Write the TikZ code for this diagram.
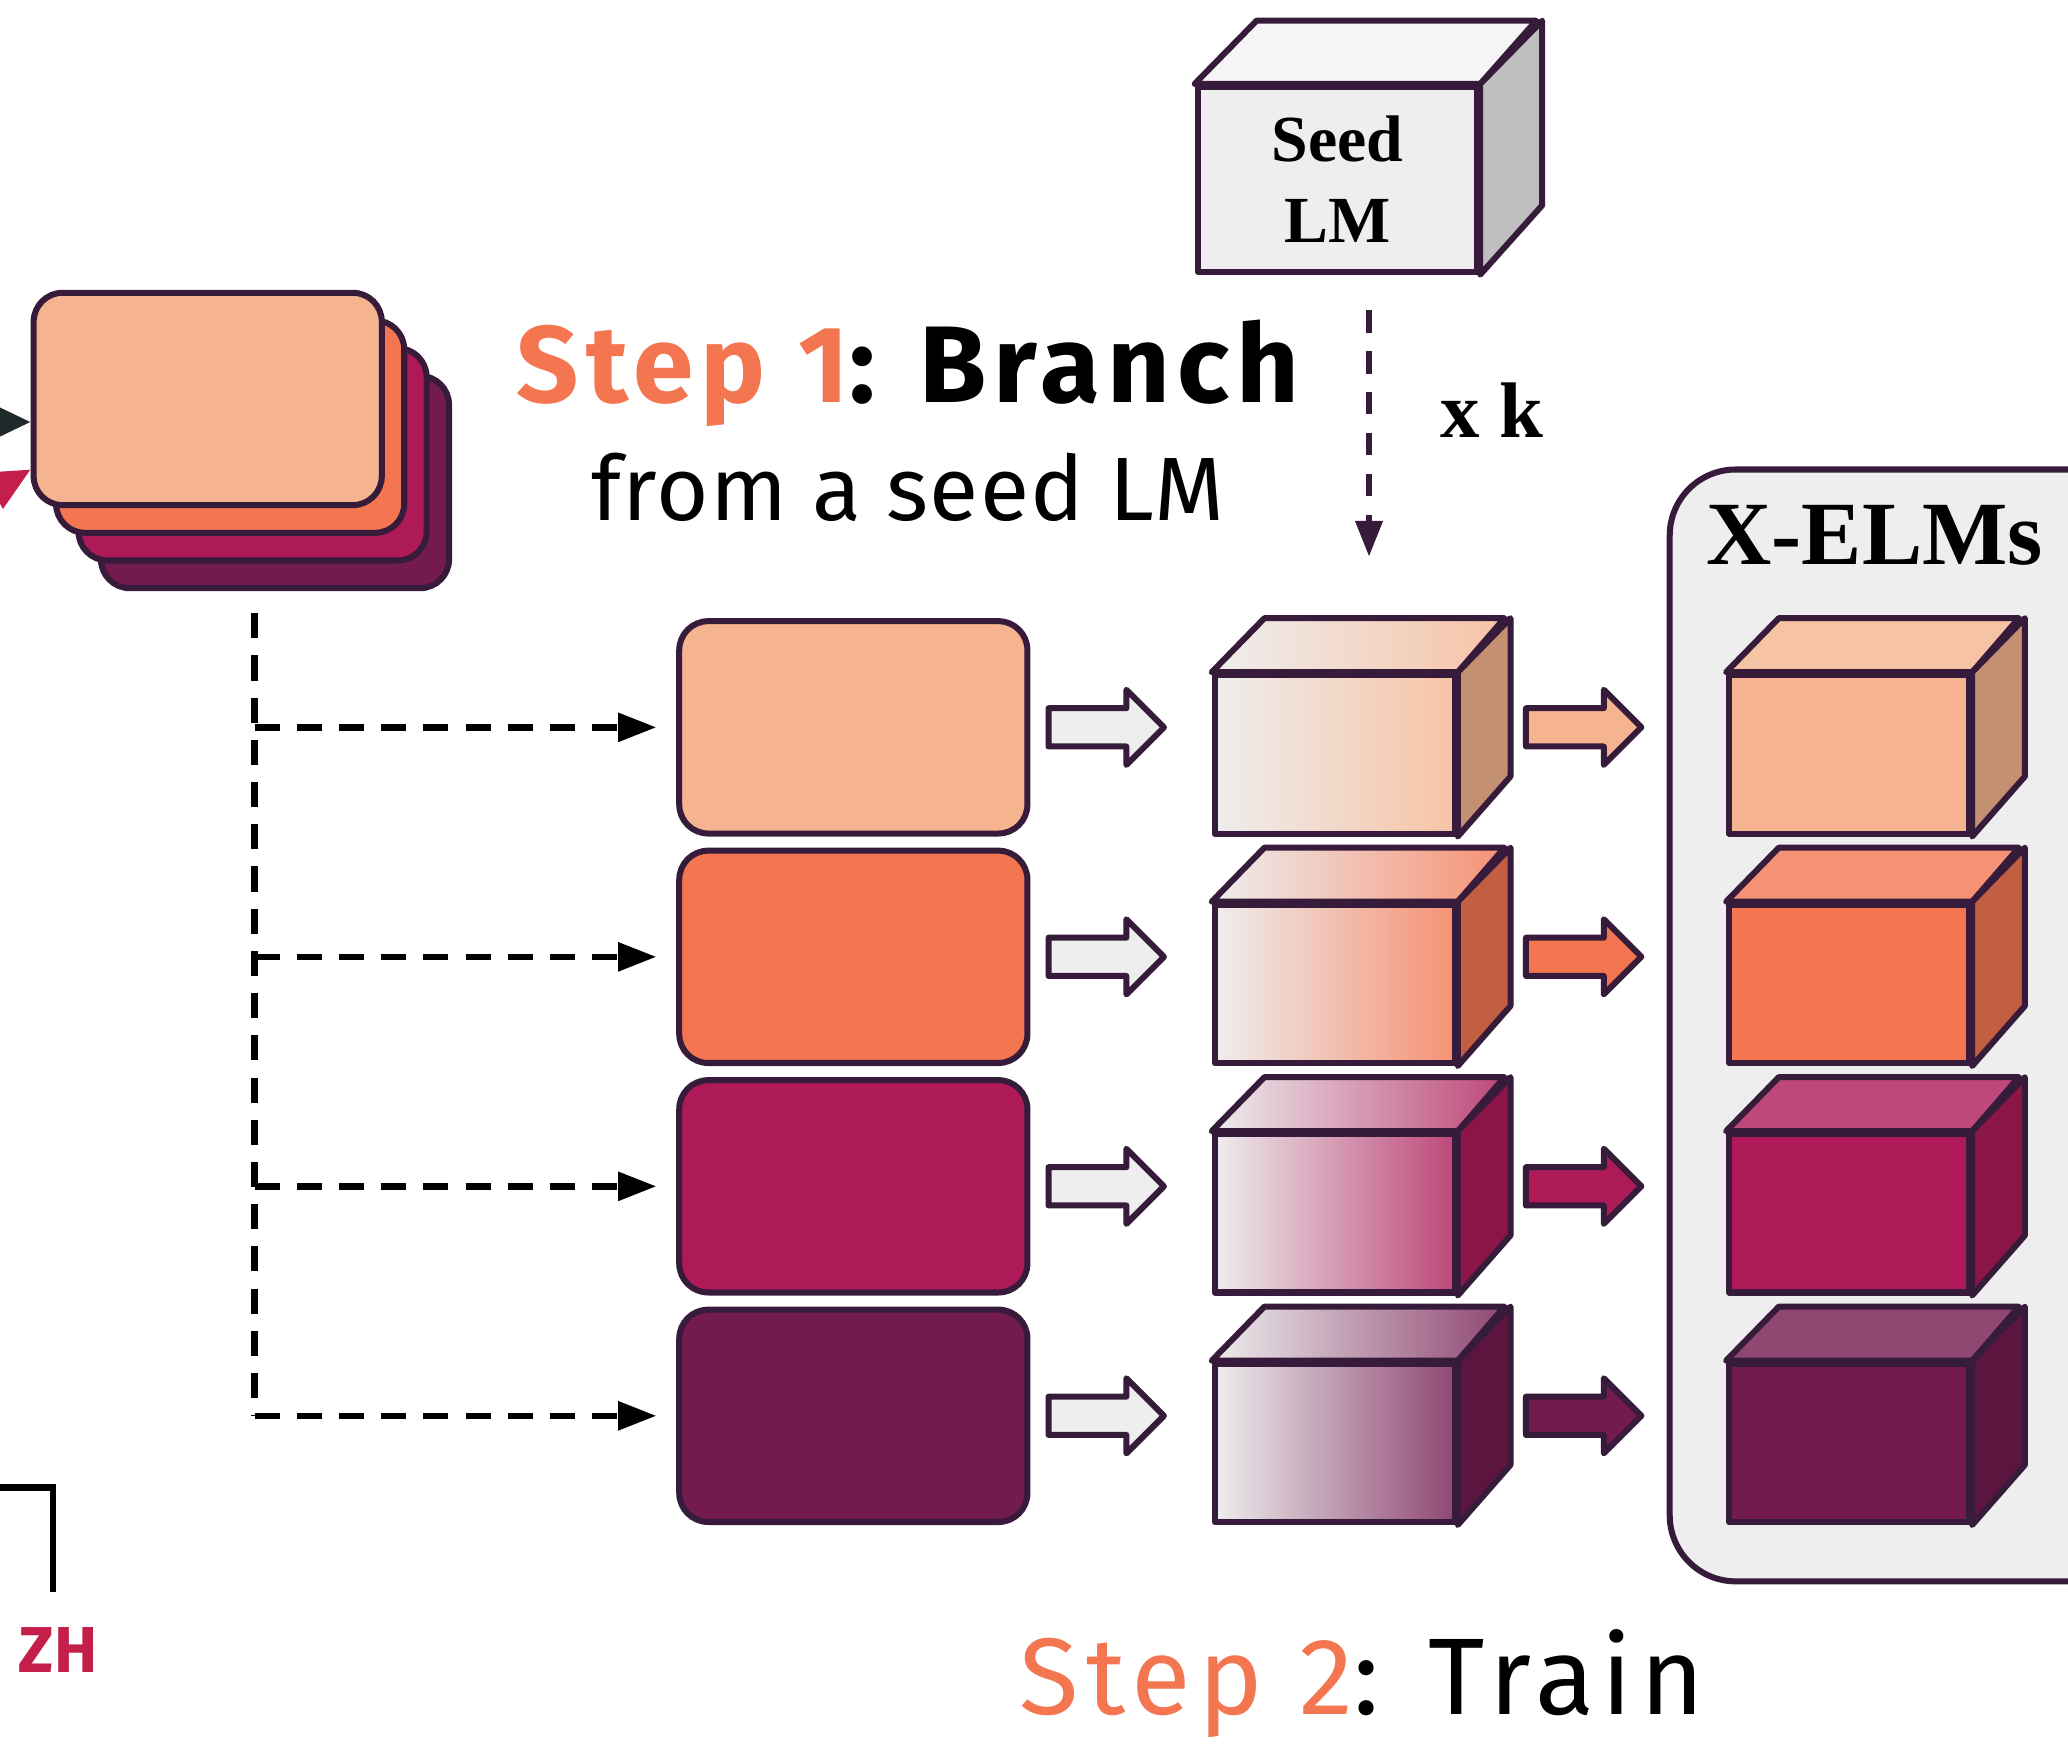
\documentclass[tikz,border=0pt]{standalone}
\usepackage{fontspec}
\setmainfont{Liberation Serif}
\newfontfamily\stepfont{Fira Sans}
\usetikzlibrary{arrows.meta}
\definecolor{ink}{HTML}{361B3A}
\definecolor{peach}{HTML}{F5B48F}
\definecolor{coral}{HTML}{F37651}
\definecolor{berry}{HTML}{AD1A57}
\definecolor{plum}{HTML}{731A4F}
\definecolor{panelgray}{HTML}{EEEEEE}
\definecolor{zhred}{HTML}{C41E4A}
\definecolor{inblack}{HTML}{1E2A2A}
\begin{document}
\begin{tikzpicture}[
  card/.style={draw=ink,line width=1.3pt,rounded corners=0.22cm,minimum width=2.64cm,minimum height=1.61cm,inner sep=0pt},
  face/.style={draw=ink,line width=1.3pt,line join=round,minimum width=1.82cm,minimum height=1.20cm,inner sep=0pt},
  side/.style={draw=ink,line width=1.3pt,line join=round},
  treeline/.style={line width=1.4pt,dash pattern=on 0.19cm off 0.13cm,-{Triangle[length=0.29cm,width=0.21cm]}},
  steptext/.style={font=\stepfont\addfontfeatures{LetterSpace=7}\fontsize{23.5}{28}\selectfont}
]
\useasboundingbox (0,0) rectangle (15.68,13.22);
\clip (0,0) rectangle (15.68,13.22);
\foreach \k/\c in {3/plum,2/berry,1/coral,0/peach}
  \node[card,fill=\c] (card\k) at (1.575+0.17*\k,10.195-0.21*\k) {};
\coordinate (inA) at (-0.6,10.02);
\coordinate (inB) at (-0.6,9.19);
\coordinate (tipB) at (0,9.66);
\draw[inblack,line width=1.5pt,-{Triangle[length=0.33cm,width=0.3cm]}] (inA) -- (card0.west |- inA);
\draw[zhred,line width=1.5pt,-{Triangle[length=0.33cm,width=0.3cm]}] (inB) -- (card0.west |- tipB);
\draw[line width=1.4pt] (0,1.94) -- (0.40,1.94) -- (0.40,1.15);
\node[font=\stepfont\bfseries\fontsize{14}{16}\selectfont,text=zhred] (zh) at (0.44,0.71) {ZH};
\node[font=\stepfont\addfontfeatures{LetterSpace=6.5}\bfseries\fontsize{23.5}{28}\selectfont,anchor=base] (step1) at (6.885,10.17) {\textcolor{coral}{Step 1}: Branch};
\node[font=\stepfont\addfontfeatures{LetterSpace=1.5}\fontsize{19.4}{23}\selectfont,anchor=base] (seedtxt) at (6.885,9.27) {from a seed LM};
\node[steptext,anchor=base] (step2) at (10.325,0.22) {\textcolor{coral}{Step 2}: Train};
\node[face,fill=panelgray,minimum width=2.12cm,minimum height=1.40cm,align=center,font=\bfseries\fontsize{14.2}{17.4}\selectfont] (seed) at (10.14,11.86) {Seed\\LM};
\filldraw[side,fill=panelgray!60!white] (seed.north west) -- ++(0.47,0.48) -- ++(2.12,0) -- (seed.north east) -- cycle;
\filldraw[side,fill=black!25] (seed.north east) -- ++(0.47,0.48) -- ++(0,-1.40) -- (seed.south east) -- cycle;
\coordinate (drop) at (10.38,9.00);
\draw[ink,line width=1.3pt,dash pattern=on 0.17cm off 0.14cm,shorten <=0.27cm,-{Triangle[length=0.27cm,width=0.2cm]}] (seed.south -| drop) -- (drop);
\node[font=\bfseries\fontsize{17}{20}\selectfont,anchor=base] (xk) at (11.31,9.90) {x k};
\draw[ink,line width=1.3pt,fill=panelgray,rounded corners=0.5cm] (12.66,1.23) rectangle (16.4,9.66);
\node[font=\bfseries\fontsize{19.5}{23}\selectfont] (elms) at (14.215,9.16) {X-ELMs};
\coordinate (trunk) at (1.93,8.57);
\foreach \c [count=\i from 0] in {peach,coral,berry,plum} {
  \pgfmathsetmacro\y{7.705-1.74*\i}
  \node[card,fill=\c] (box\i) at (6.47,\y) {};
  \draw[treeline,shorten >=0.15cm] (trunk |- box\i.west) -- (box\i.west);
  \coordinate (wa\i) at (7.95,\y);
  \filldraw[side,fill=panelgray] (wa\i) ++(0,0.145) -- ++(0.59,0) -- ++(0,0.14) -- ++(0.285,-0.285) -- ++(-0.285,-0.285) -- ++(0,0.14) -- ++(-0.59,0) -- cycle;
  \node[face,left color=panelgray,right color=\c!80!white] (mid\i) at (10.12,\y-0.205) {};
  \shadedraw[side,left color=panelgray,right color=\c!80!white] (mid\i.north west) -- ++(0.40,0.41) -- ++(1.82,0) -- (mid\i.north east) -- cycle;
  \filldraw[side,fill=\c!80!black] (mid\i.north east) -- ++(0.40,0.41) -- ++(0,-1.20) -- (mid\i.south east) -- cycle;
  \coordinate (ca\i) at (11.57,\y);
  \filldraw[side,fill=\c] (ca\i) ++(0,0.145) -- ++(0.59,0) -- ++(0,0.14) -- ++(0.285,-0.285) -- ++(-0.285,-0.285) -- ++(0,0.14) -- ++(-0.59,0) -- cycle;
  \node[face,fill=\c] (elm\i) at (14.02,\y-0.205) {};
  \filldraw[side,fill=\c!80!white] (elm\i.north west) -- ++(0.40,0.41) -- ++(1.82,0) -- (elm\i.north east) -- cycle;
  \filldraw[side,fill=\c!80!black] (elm\i.north east) -- ++(0.40,0.41) -- ++(0,-1.20) -- (elm\i.south east) -- cycle;
}
\draw[line width=1.4pt,dash pattern=on 0.19cm off 0.13cm] (trunk) -- (trunk |- box3.west);
\end{tikzpicture}
\end{document}
